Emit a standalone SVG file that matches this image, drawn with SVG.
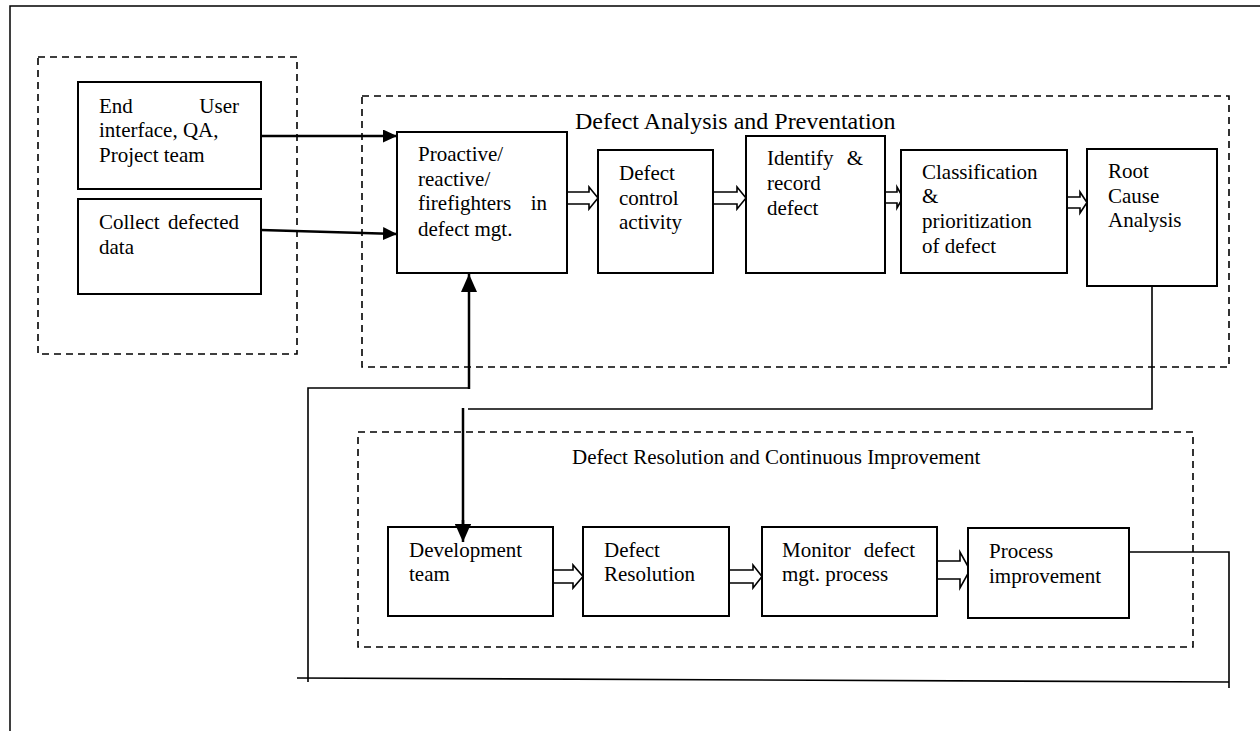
<svg xmlns="http://www.w3.org/2000/svg" width="1260" height="731" viewBox="0 0 1260 731">
  <style>
    .box { fill: #fff; stroke: #000; stroke-width: 2; }
    .grp { fill: none; stroke: #000; stroke-width: 1.6; stroke-dasharray: 7 5; }
    .t { font-family: "Liberation Serif", "Times New Roman", serif; font-size: 21px; fill: #000; }
    .title { font-family: "Liberation Serif", "Times New Roman", serif; font-size: 24px; fill: #000; }
    .wire { fill: none; stroke: #000; stroke-width: 1.6; }
    .feed { fill: none; stroke: #000; stroke-width: 2.5; }
    .block { fill: #fff; stroke: #000; stroke-width: 1.6; stroke-linejoin: miter; }
  </style>
  <defs>
    <marker id="head" markerUnits="userSpaceOnUse" markerWidth="14" markerHeight="13" refX="14" refY="6.5" orient="auto">
      <path d="M0,0 L14,6.5 L0,13 Z" fill="#000"/>
    </marker>
    <marker id="headBig" markerUnits="userSpaceOnUse" markerWidth="18" markerHeight="16" refX="18" refY="8" orient="auto">
      <path d="M0,0 L18,8 L0,16 Z" fill="#000"/>
    </marker>
  </defs>

  <rect width="1260" height="731" fill="#fff"/>

  <!-- page frame -->
  <path d="M10,731 L10,6 L1260,6" fill="none" stroke="#000" stroke-width="1.5"/>

  <!-- dashed grouping frames -->
  <g id="groups">
    <rect class="grp" x="38" y="57" width="259" height="297"/>
    <rect class="grp" x="362" y="96" width="867" height="271"/>
    <rect class="grp" x="358" y="432" width="835" height="215"/>
    <text class="title" x="575" y="129">Defect Analysis and Preventation</text>
    <text class="t" x="572" y="464">Defect Resolution and Continuous Improvement</text>
  </g>

  <!-- connectors -->
  <g id="connectors">
    <line class="feed" x1="261" y1="136" x2="397" y2="136" marker-end="url(#head)"/>
    <line class="feed" x1="261" y1="230" x2="397" y2="234" marker-end="url(#head)"/>
    <!-- root cause down to development team -->
    <polyline class="wire" points="1152,286 1152,409 468,409"/>
    <line class="feed" x1="463" y1="408" x2="463" y2="542" marker-end="url(#headBig)"/>
    <!-- feedback loop from process improvement back to proactive stage -->
    <polyline class="wire" points="1129,552 1229,552 1229,688"/>
    <line class="wire" x1="297" y1="678" x2="1229" y2="682"/>
    <polyline class="wire" points="308,682 308,388 469,388"/>
    <line class="feed" x1="469" y1="389" x2="469" y2="274" marker-end="url(#headBig)"/>
    <!-- block arrows between stages -->
    <path class="block" d="M567,192 L589,192 L589,187 L598,198 L589,209 L589,204 L567,204 Z"/>
    <path class="block" d="M713,192 L737,192 L737,187 L746,198 L737,209 L737,204 L713,204 Z"/>
    <path class="block" d="M885,192 L897,192 L897,187 L903,197.5 L897,208 L897,203 L885,203 Z"/>
    <path class="block" d="M1067,197 L1080,197 L1080,192 L1087,202.5 L1080,213 L1080,208 L1067,208 Z"/>
    <path class="block" d="M553,570 L573,570 L573,565 L583,576.5 L573,588 L573,583 L553,583 Z"/>
    <path class="block" d="M729,570 L753,570 L753,565 L762,576.5 L753,588 L753,583 L729,583 Z"/>
    <path class="block" d="M937,561 L960,561 L960,552 L970,570 L960,588 L960,579 L937,579 Z"/>
  </g>

  <g id="end-user">
    <rect class="box" x="78" y="82" width="183" height="107"/>
    <text class="t" x="99" y="113">End</text>
    <text class="t" x="239" y="113" text-anchor="end">User</text>
    <text class="t" x="99" y="137">interface, QA,</text>
    <text class="t" x="99" y="162">Project team</text>
  </g>

  <g id="collect-data">
    <rect class="box" x="78" y="199" width="183" height="95"/>
    <text class="t" x="99" y="229">Collect</text>
    <text class="t" x="239" y="229" text-anchor="end">defected</text>
    <text class="t" x="99" y="254">data</text>
  </g>

  <g id="proactive">
    <rect class="box" x="397" y="132" width="170" height="141"/>
    <text class="t" x="418" y="161">Proactive/</text>
    <text class="t" x="418" y="186">reactive/</text>
    <text class="t" x="418" y="210">firefighters</text>
    <text class="t" x="547" y="210" text-anchor="end">in</text>
    <text class="t" x="418" y="236">defect mgt.</text>
  </g>

  <g id="defect-control">
    <rect class="box" x="598" y="150" width="115" height="123"/>
    <text class="t" x="619" y="180">Defect</text>
    <text class="t" x="619" y="205">control</text>
    <text class="t" x="619" y="229">activity</text>
  </g>

  <g id="identify">
    <rect class="box" x="746" y="136" width="139" height="137"/>
    <text class="t" x="767" y="165">Identify</text>
    <text class="t" x="863" y="165" text-anchor="end">&amp;</text>
    <text class="t" x="767" y="190">record</text>
    <text class="t" x="767" y="215">defect</text>
  </g>

  <g id="classification">
    <rect class="box" x="901" y="150" width="166" height="123"/>
    <text class="t" x="922" y="179">Classification</text>
    <text class="t" x="922" y="203">&amp;</text>
    <text class="t" x="922" y="228">prioritization</text>
    <text class="t" x="922" y="253">of defect</text>
  </g>

  <g id="root-cause">
    <rect class="box" x="1087" y="149" width="130" height="137"/>
    <text class="t" x="1108" y="178">Root</text>
    <text class="t" x="1108" y="203">Cause</text>
    <text class="t" x="1108" y="227">Analysis</text>
  </g>

  <g id="development-team">
    <rect class="box" x="388" y="527" width="165" height="89"/>
    <text class="t" x="409" y="557">Development</text>
    <text class="t" x="409" y="581">team</text>
  </g>

  <g id="defect-resolution">
    <rect class="box" x="583" y="527" width="146" height="89"/>
    <text class="t" x="604" y="557">Defect</text>
    <text class="t" x="604" y="581">Resolution</text>
  </g>

  <g id="monitor">
    <rect class="box" x="762" y="527" width="175" height="89"/>
    <text class="t" x="782" y="557">Monitor</text>
    <text class="t" x="915" y="557" text-anchor="end">defect</text>
    <text class="t" x="782" y="581">mgt. process</text>
  </g>

  <g id="process-improvement">
    <rect class="box" x="968" y="528" width="161" height="90"/>
    <text class="t" x="989" y="558">Process</text>
    <text class="t" x="989" y="583">improvement</text>
  </g>

  <!-- re-draw the arrow tip that overlaps the development box -->
  <line class="feed" x1="463" y1="520" x2="463" y2="542" marker-end="url(#headBig)"/>
</svg>
